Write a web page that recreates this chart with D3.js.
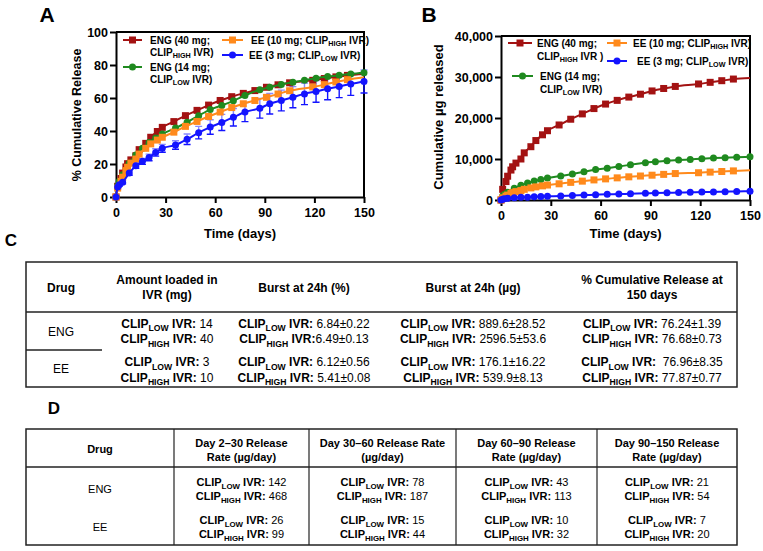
<!DOCTYPE html>
<html><head><meta charset="utf-8">
<script src="https://cdn.jsdelivr.net/npm/d3@7"></script>
<style>
body{margin:0;background:#fff}
svg{display:block}
text{font-family:"Liberation Sans", Arial, Helvetica, sans-serif;fill:#000}
</style>
</head><body>
<svg id="fig" width="763" height="551"></svg>
<script>
// ---------------- DATA ----------------
const xTicks = [0, 30, 60, 90, 120, 150];
const yTicksPct = [0, 20, 40, 60, 80, 100];
const yTicksUg = [0, 10000, 20000, 30000, 40000];

// sampling days (CLIP_HIGH rings and CLIP_LOW rings)
const timeHigh = [0,1,3,4,6,7,9,12,14,18,21,25,28,35,42,49,56,63,70,77,84,91,98,105,119,126,133,140,150];
const timeLow  = [0,1,2,4,8,12,16,20,24,28,36,43,50,57,64,71,78,87,93,100,107,114,121,128,135,142,150];

// Panel A: % cumulative release
const engHighPct = [0,6.5,11.2,14.5,18.2,20.2,22.5,25,28.7,32.5,36.2,39.7,42.2,45.7,49.3,52.5,55.7,58.5,60.8,62.8,64.5,66.5,68,69.2,70.7,71.8,72.8,73.7,74.5];
const eeHighPct  = [0,5.4,9.5,12,16,18,20.5,23,26,29.5,32.2,34.5,36.2,39.3,42.8,45.8,48.8,51.5,54.2,56.5,58.5,60.4,62.4,64.4,66.7,68.1,69.7,71.1,72.6];
const engLowPct  = [0,6.8,9.5,13.5,20.5,25.5,29.5,33,35.8,38.2,41.8,45.3,49.3,53,55.5,58.3,61.5,65,66.5,68.2,69.6,70.7,72,73,73.8,74.6,75.3];
const eeLowPct   = [0,6.1,7.5,9,14.5,19,21.6,24,27,29.5,31.5,35,39,42.4,45.2,48.3,51.5,53.8,56.5,58.5,60.5,62.5,64,65.6,67,68.5,70];
const eeLowPctSD = [0,0.6,0.8,1,1.3,1.6,1.8,2,2.2,2.4,2.6,3.2,3.8,4.4,4.9,5.3,5.8,6,6.2,6.3,6.4,6.5,6.6,6.7,6.8,6.9,7];

// Panel B: cumulative µg released
const engHighUg = [0,2600,4500,5800,7300,8100,9000,10000,11500,13000,14500,15900,16900,18300,19700,21000,22300,23400,24300,25100,25800,26600,27200,27700,28300,28700,29100,29500,29750];
const eeHighUg  = [0,540,950,1200,1600,1800,2050,2300,2600,2950,3200,3450,3650,3950,4300,4600,4900,5150,5400,5650,5850,6050,6250,6450,6650,6800,6950,7100,7250];
const engLowUg  = [0,960,1330,1890,2870,3570,4130,4620,5010,5350,5850,6340,6900,7420,7770,8160,8610,9100,9310,9550,9740,9900,10080,10220,10330,10440,10540];
const eeLowUg   = [0,180,300,400,550,650,700,780,850,900,1000,1100,1200,1300,1380,1450,1530,1620,1700,1760,1820,1880,1930,1980,2030,2080,2120];

// Table C
const tableCHeaders = [["Drug"], ["Amount loaded in", "IVR (mg)"], ["Burst at 24h (%)"], ["Burst at 24h (µg)"], ["% Cumulative Release at", "150 days"]];
const tableCDrugs = ["ENG", "EE"];
const tableCValues = [
  [[" 14", " 40"], [" 6.84±0.22", "6.49±0.13"], [" 889.6±28.52", " 2596.5±53.6"], [" 76.24±1.39", " 76.68±0.73"]],
  [[" 3", " 10"], [" 6.12±0.56", " 5.41±0.08"], [" 176.1±16.22", " 539.9±8.13"], ["  76.96±8.35", " 77.87±0.77"]]
];
// Table D
const tableDHeaders = [["Drug"], ["Day 2–30 Release", "Rate (µg/day)"], ["Day 30–60 Release Rate", "(µg/day)"], ["Day 60–90 Release", "Rate (µg/day)"], ["Day 90–150 Release", "Rate (µg/day)"]];
const tableDDrugs = ["ENG", "EE"];
const tableDValues = [
  [[" 142", " 468"], [" 78", " 187"], [" 43", " 113"], [" 21", " 54"]],
  [[" 26", " 99"], [" 15", " 44"], [" 10", " 32"], [" 7", " 20"]]
];
const ringLevels = ["LOW", "HIGH"];

// ---------------- STYLE ----------------
const C_RED = "#a31212", C_GREEN = "#1f8a1f", C_ORANGE = "#ff8a1c", C_BLUE = "#1414ff";

const svg = d3.select("#fig");
svg.append("rect").attr("width", 763).attr("height", 551).attr("fill", "#fff");

function rich(parent, x, y, parts, size, anchor) {
  const t = parent.append("text").attr("x", x).attr("y", y)
    .attr("font-size", size).attr("text-anchor", anchor || "start")
    .attr("dy", "0.35em").style("white-space", "pre");
  let shift = 0;
  parts.forEach(p => {
    const ts = t.append("tspan").text(p.t).attr("font-weight", p.b ? "bold" : "normal");
    const target = p.sub ? size * 0.28 : 0;
    if (target !== shift) { ts.attr("dy", target - shift); shift = target; }
    if (p.sub) ts.attr("font-size", size * 0.72);
  });
  return t;
}
const clip = (lvl, tail) => [{t: "CLIP", b: 1}, {t: lvl, b: 1, sub: 1}, {t: tail, b: 1}];

function marker(g, type, cx, cy, color, size) {
  if (type === "square") {
    g.append("rect").attr("x", cx - size / 2).attr("y", cy - size / 2)
      .attr("width", size).attr("height", size).attr("fill", color);
  } else {
    g.append("circle").attr("cx", cx).attr("cy", cy).attr("r", size / 2).attr("fill", color);
  }
}

function drawChart(cfg) {
  const x = d3.scaleLinear().domain([0, 150]).range([cfg.x0, cfg.x1]);
  const y = d3.scaleLinear().domain([0, cfg.ymax]).range([cfg.y0, cfg.y1]);
  const g = svg.append("g");

  // frame (top / right)
  g.append("path").attr("d", `M${cfg.x0},${cfg.y1}H${cfg.x1}V${cfg.y0}`)
    .attr("fill", "none").attr("stroke", "#000").attr("stroke-width", 2);

  // axes
  const xa = g.append("g").attr("transform", `translate(0,${cfg.y0})`)
    .call(d3.axisBottom(x).tickValues(xTicks).tickSize(6).tickSizeOuter(0).tickPadding(5).tickFormat(d3.format("d")));
  const ya = g.append("g").attr("transform", `translate(${cfg.x0},0)`)
    .call(d3.axisLeft(y).tickValues(cfg.yTicks).tickSize(6).tickSizeOuter(0).tickPadding(2).tickFormat(cfg.yFormat));
  [xa, ya].forEach(a => {
    a.select(".domain").attr("stroke", "#000").attr("stroke-width", 2);
    a.selectAll(".tick line").attr("stroke", "#000").attr("stroke-width", 2);
    a.selectAll(".tick text").attr("font-size", 12.5).attr("font-weight", "bold")
      .attr("font-family", '"Liberation Sans", Arial, sans-serif').attr("fill", "#000");
  });

  // error bars
  cfg.series.forEach(s => {
    if (!s.sd) return;
    s.t.forEach((t, i) => {
      const sd = s.sd[i];
      if (!sd) return;
      const cx = x(t), v = s.v[i];
      const lo = y(v - sd), hi = y(v + sd);
      g.append("path").attr("d", `M${cx},${y(v)}V${lo}M${cx - 3.5},${lo}H${cx + 3.5}`)
        .attr("stroke", s.color).attr("stroke-width", 1.4).attr("fill", "none");
      g.append("path").attr("d", `M${cx},${y(v)}V${hi}M${cx - 3.5},${hi}H${cx + 3.5}`)
        .attr("stroke", s.color).attr("stroke-opacity", 0.5).attr("stroke-width", 1.4).attr("fill", "none");
    });
  });

  // series
  cfg.series.forEach(s => {
    const pts = s.t.map((t, i) => ({t, v: s.v[i]}));
    g.append("path").datum(pts)
      .attr("d", d3.line().x(d => x(d.t)).y(d => y(d.v)).curve(d3.curveMonotoneX))
      .attr("fill", "none").attr("stroke", s.color).attr("stroke-width", 2);
    pts.forEach((d, i) => {
      if (i === pts.length - 1 && s.noEnd) return;
      marker(g, s.shape, x(d.t), y(d.v), s.color, 7);
    });
  });

  // titles
  g.append("text").attr("x", (cfg.x0 + cfg.x1) / 2).attr("y", 233).attr("dy", "0.35em")
    .attr("text-anchor", "middle").attr("font-size", 13).attr("font-weight", "bold").text("Time (days)");
  g.append("text").attr("transform", `translate(${cfg.ytx},${cfg.yty}) rotate(-90)`).attr("dy", "0.35em")
    .attr("text-anchor", "middle").attr("font-size", cfg.ytSize).attr("font-weight", "bold").text(cfg.ytitle);

  // legend
  cfg.legend.forEach(L => {
    g.append("line").attr("x1", L.lx0).attr("x2", L.lx1).attr("y1", L.ly).attr("y2", L.ly)
      .attr("stroke", L.color).attr("stroke-width", 2);
    marker(g, L.shape, (L.lx0 + L.lx1) / 2, L.ly, L.color, 7);
    L.lines.forEach((ln, k) => rich(g, L.tx, L.ly + k * cfg.legendGap, ln, 10));
  });
}

// Panel A
drawChart({
  x0: 116, x1: 364, y0: 197, y1: 32, ymax: 100, yTicks: yTicksPct, yFormat: d3.format("d"),
  ytitle: "% Cumulative Release", ytx: 77, yty: 115, ytSize: 12.5, legendGap: 12,
  series: [
    {t: timeHigh, v: engHighPct, color: C_RED, shape: "square", noEnd: true},
    {t: timeLow, v: engLowPct, color: C_GREEN, shape: "circle"},
    {t: timeHigh, v: eeHighPct, color: C_ORANGE, shape: "square", noEnd: true},
    {t: timeLow, v: eeLowPct, sd: eeLowPctSD, color: C_BLUE, shape: "circle"}
  ],
  legend: [
    {color: C_RED, shape: "square", lx0: 123, lx1: 142, ly: 40, tx: 150,
     lines: [[{t: "ENG (40 mg;", b: 1}], clip("HIGH", " IVR)")]},
    {color: C_GREEN, shape: "circle", lx0: 123, lx1: 142, ly: 67, tx: 150,
     lines: [[{t: "ENG (14 mg;", b: 1}], clip("LOW", " IVR)")]},
    {color: C_ORANGE, shape: "square", lx0: 222, lx1: 243, ly: 40, tx: 251,
     lines: [[{t: "EE (10 mg; ", b: 1}].concat(clip("HIGH", " IVR)"))]},
    {color: C_BLUE, shape: "circle", lx0: 222, lx1: 243, ly: 55, tx: 249,
     lines: [[{t: "EE (3 mg; ", b: 1}].concat(clip("LOW", " IVR)"))]}
  ]
});

// Panel B
drawChart({
  x0: 501, x1: 750, y0: 200, y1: 36, ymax: 40000, yTicks: yTicksUg, yFormat: d3.format(","),
  ytitle: "Cumulative µg released", ytx: 438, yty: 117, ytSize: 13, legendGap: 13,
  series: [
    {t: timeHigh, v: engHighUg, color: C_RED, shape: "square", noEnd: true},
    {t: timeLow, v: engLowUg, color: C_GREEN, shape: "circle"},
    {t: timeHigh, v: eeHighUg, color: C_ORANGE, shape: "square", noEnd: true},
    {t: timeLow, v: eeLowUg, color: C_BLUE, shape: "circle"}
  ],
  legend: [
    {color: C_RED, shape: "square", lx0: 508, lx1: 532, ly: 43, tx: 537,
     lines: [[{t: "ENG (40 mg;", b: 1}], clip("HIGH", " IVR )")]},
    {color: C_GREEN, shape: "circle", lx0: 512, lx1: 533, ly: 76, tx: 540,
     lines: [[{t: "ENG (14 mg;", b: 1}], clip("LOW", " IVR)")]},
    {color: C_ORANGE, shape: "square", lx0: 607, lx1: 627, ly: 43, tx: 633,
     lines: [[{t: "EE (10 mg; ", b: 1}].concat(clip("HIGH", " IVR)"))]},
    {color: C_BLUE, shape: "circle", lx0: 607, lx1: 627, ly: 61, tx: 637,
     lines: [[{t: "EE (3 mg; ", b: 1}].concat(clip("LOW", " IVR)"))]}
  ]
});

// Panel letters
[["A", 47, 15, 21], ["B", 429, 15, 21], ["C", 11, 240, 17], ["D", 54, 408, 17]].forEach(([s, x, y, fs]) => {
  svg.append("text").attr("x", x).attr("y", y).attr("dy", "0.35em").attr("text-anchor", "middle")
    .attr("font-size", fs).attr("font-weight", "bold").text(s);
});

// ---------------- TABLE C ----------------
(function () {
  const g = svg.append("g");
  const L = 26, R = 737, T = 262, B = 387, HB = 312;
  g.append("rect").attr("x", L).attr("y", T).attr("width", R - L).attr("height", B - T)
    .attr("fill", "none").attr("stroke", "#222").attr("stroke-width", 1.5);
  g.append("line").attr("x1", L).attr("x2", R).attr("y1", HB).attr("y2", HB).attr("stroke", "#222").attr("stroke-width", 1.5);
  g.append("line").attr("x1", L).attr("x2", 102).attr("y1", 350).attr("y2", 350).attr("stroke", "#222").attr("stroke-width", 1.5);
  const cx = [61, 167, 304, 473, 652];
  tableCHeaders.forEach((h, i) => {
    const ys = h.length === 1 ? [288] : [280, 295];
    h.forEach((ln, k) => rich(g, cx[i], ys[k], [{t: ln, b: 1}], 12, "middle"));
  });
  const drugY = [331.5, 368.5];
  const lineY = [[323.5, 339], [362, 377.5]];
  tableCDrugs.forEach((d, r) => {
    rich(g, cx[0], drugY[r], [{t: d}], 12, "middle");
    tableCValues[r].forEach((pair, c) => {
      pair.forEach((v, k) => {
        rich(g, cx[c + 1], lineY[r][k], clip(ringLevels[k], " IVR:").concat([{t: v}]), 12, "middle");
      });
    });
  });
})();

// ---------------- TABLE D ----------------
(function () {
  const g = svg.append("g");
  const L = 26, R = 737, T = 429, B = 545, HB = 467;
  const vx = [174, 309, 456, 597];
  g.append("rect").attr("x", L).attr("y", T).attr("width", R - L).attr("height", B - T)
    .attr("fill", "none").attr("stroke", "#222").attr("stroke-width", 1.5);
  g.append("line").attr("x1", L).attr("x2", R).attr("y1", HB).attr("y2", HB).attr("stroke", "#222").attr("stroke-width", 1.5);
  vx.forEach(v => g.append("line").attr("x1", v).attr("x2", v).attr("y1", T).attr("y2", B).attr("stroke", "#222").attr("stroke-width", 1.2));
  const edges = [L].concat(vx, [R]);
  const cx = edges.slice(0, -1).map((e, i) => (e + edges[i + 1]) / 2);
  tableDHeaders.forEach((h, i) => {
    const ys = h.length === 1 ? [449.5] : [443, 457];
    h.forEach((ln, k) => rich(g, cx[i], ys[k], [{t: ln, b: 1}], 11, "middle"));
  });
  const drugY = [489, 527];
  const lineY = [[482, 496.5], [520, 534.5]];
  tableDDrugs.forEach((d, r) => {
    rich(g, cx[0], drugY[r], [{t: d}], 11, "middle");
    tableDValues[r].forEach((pair, c) => {
      pair.forEach((v, k) => {
        rich(g, cx[c + 1], lineY[r][k], clip(ringLevels[k], " IVR:").concat([{t: v}]), 11, "middle");
      });
    });
  });
})();
</script>
</body></html>
